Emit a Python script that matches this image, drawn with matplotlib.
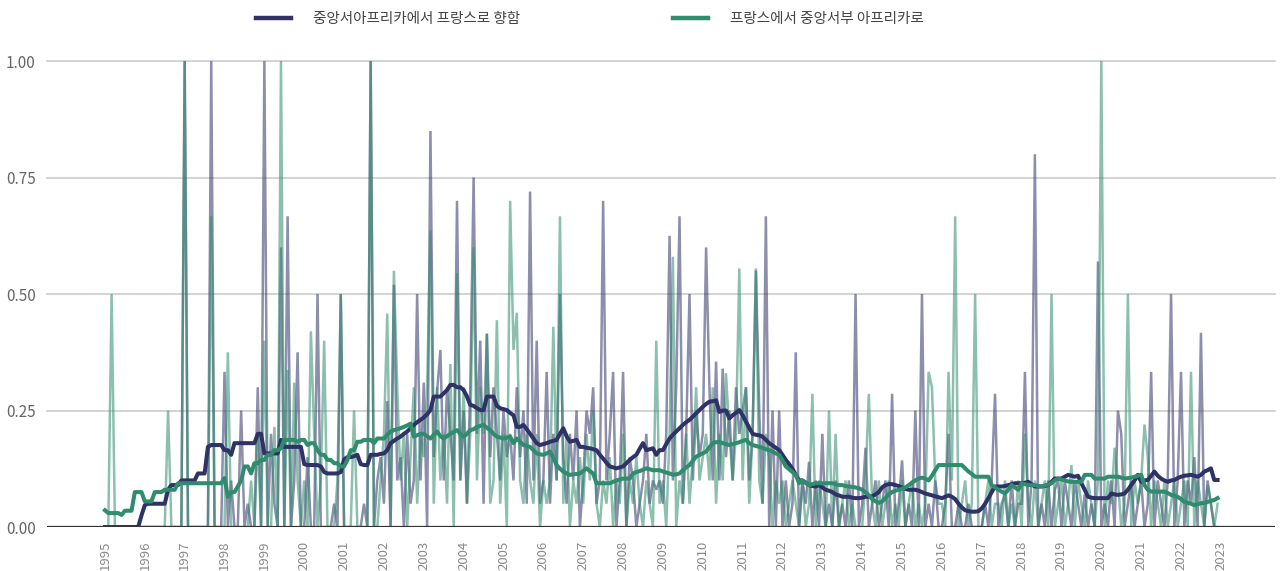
import numpy as np
import matplotlib
matplotlib.use("Agg")
import matplotlib.pyplot as plt
from matplotlib.lines import Line2D

plt.rcParams["font.family"] = ["Noto Sans CJK KR", "DejaVu Sans"]

# Monthly share values, Jan 1995 .. Dec 2022 (one row per year)
to_france_raw = [
    0, 0, 0, 0, 0, 0, 0, 0, 0, 0, 0, 0,                                  # 1995
    0, 0, 0, 0, 0, 0, 0, 0, 0, 0, 0, 0,                                  # 1996
    1.0, 0, 0, 0, 0, 0, 0, 0, 1.0, 0, 0, 0,                              # 1997
    0.333, 0, 0.1, 0, 0, 0.25, 0, 0.05, 0, 0, 0.3, 0,                    # 1998
    1.0, 0, 0.2, 0.05, 0, 0.6, 0, 0.667, 0, 0.1, 0.375, 0,               # 1999
    0, 0.15, 0, 0, 0.5, 0, 0, 0, 0, 0.05, 0, 0.5,                        # 2000
    0, 0, 0, 0, 0, 0, 0.05, 0, 1.0, 0, 0.1, 0.15,                        # 2001
    0.05, 0.27, 0, 0.52, 0.1, 0.15, 0, 0.2, 0.05, 0.1, 0.5, 0.1,         # 2002
    0.31, 0, 0.85, 0.15, 0.29, 0.38, 0.1, 0.3, 0.2, 0.1, 0.7, 0.1,       # 2003
    0.25, 0.05, 0.3, 0.75, 0.2, 0.4, 0.05, 0.415, 0.15, 0.3, 0.2, 0.1,   # 2004
    0.25, 0.15, 0.2, 0.1, 0.3, 0.15, 0.25, 0.05, 0.72, 0.1, 0.4, 0.05,   # 2005
    0.1, 0.333, 0.05, 0.2, 0.1, 0.5, 0.15, 0.05, 0.2, 0.1, 0.25, 0,      # 2006
    0.1, 0.25, 0.2, 0.3, 0.05, 0.1, 0.7, 0.1, 0.2, 0.333, 0, 0.1,        # 2007
    0.333, 0, 0.15, 0.1, 0, 0.05, 0.1, 0.2, 0.05, 0.1, 0.08, 0.1,        # 2008
    0.05, 0.2, 0.625, 0.1, 0.3, 0.667, 0.05, 0.2, 0.5, 0.1, 0.25, 0.15,  # 2009
    0.2, 0.6, 0.3, 0.1, 0.355, 0.1, 0.34, 0.15, 0.25, 0.1, 0.3, 0.2,     # 2010
    0.25, 0.3, 0.1, 0.2, 0.55, 0.25, 0.05, 0.667, 0, 0.25, 0, 0.25,      # 2011
    0, 0.1, 0, 0.05, 0.375, 0, 0.1, 0.05, 0.14, 0, 0.1, 0,               # 2012
    0.2, 0, 0.05, 0, 0.1, 0, 0.05, 0, 0.1, 0, 0.5, 0,                    # 2013
    0.05, 0.17, 0, 0.05, 0.1, 0, 0.05, 0.1, 0, 0.286, 0, 0.05,           # 2014
    0.143, 0, 0.05, 0, 0.25, 0, 0.5, 0, 0.05, 0, 0.1, 0,                 # 2015
    0, 0.05, 0.2, 0, 0, 0.05, 0, 0, 0.05, 0, 0, 0,                       # 2016
    0, 0.05, 0, 0.1, 0.286, 0, 0.05, 0.07, 0, 0.1, 0, 0.05,              # 2017
    0.05, 0.333, 0, 0.1, 0.8, 0, 0.05, 0, 0.1, 0, 0.08, 0.1,             # 2018
    0, 0.1, 0.05, 0, 0.1, 0.05, 0, 0.07, 0, 0.05, 0, 0.57,               # 2019
    0, 0.05, 0, 0.1, 0, 0.25, 0.2, 0, 0.05, 0.1, 0, 0.05,                # 2020
    0.1, 0, 0.05, 0.333, 0, 0.1, 0.05, 0, 0.1, 0.5, 0, 0.1,              # 2021
    0.333, 0, 0.1, 0.05, 0.15, 0, 0.417, 0, 0.1, 0.05, 0, 0,             # 2022
]

to_africa_raw = [
    0, 0, 0.5, 0, 0, 0, 0, 0, 0, 0, 0, 0,                                # 1995
    0, 0, 0, 0, 0, 0, 0, 0.25, 0, 0, 0, 0,                               # 1996
    1.0, 0, 0, 0, 0, 0, 0, 0, 0.667, 0, 0, 0,                            # 1997
    0, 0.375, 0, 0, 0, 0, 0, 0, 0.1, 0, 0.2, 0,                          # 1998
    0.4, 0, 0, 0.215, 0, 1.0, 0, 0.337, 0, 0.31, 0.1, 0,                 # 1999
    0.1, 0, 0.42, 0.2, 0, 0.1, 0.4, 0, 0, 0, 0.1, 0.5,                   # 2000
    0, 0, 0, 0.25, 0, 0, 0, 0, 1.0, 0, 0, 0.1,                           # 2001
    0.2, 0.458, 0, 0.55, 0.3, 0.1, 0.2, 0, 0.15, 0.3, 0.05, 0.2,         # 2002
    0.15, 0.3, 0.637, 0.05, 0.3, 0.1, 0.2, 0.05, 0.35, 0, 0.545, 0.1,    # 2003
    0.3, 0.05, 0.2, 0.6, 0.1, 0.3, 0.2, 0.415, 0.05, 0.1, 0.444, 0.05,   # 2004
    0.2, 0, 0.7, 0.38, 0.46, 0.1, 0.05, 0.2, 0.1, 0.05, 0.2, 0,          # 2005
    0.1, 0.05, 0.1, 0.43, 0.1, 0.667, 0.05, 0.2, 0, 0.1, 0.05, 0.15,     # 2006
    0.05, 0.2, 0.1, 0.25, 0.05, 0, 0.1, 0.05, 0.15, 0, 0.1, 0.05,        # 2007
    0.2, 0, 0.1, 0.05, 0.15, 0.05, 0, 0.1, 0.05, 0, 0.4, 0.05,           # 2008
    0.1, 0, 0.2, 0.58, 0, 0.1, 0.05, 0.2, 0.05, 0.15, 0.3, 0.1,          # 2009
    0.15, 0.2, 0.1, 0.3, 0.05, 0.2, 0.1, 0.33, 0.2, 0.1, 0.2, 0.555,     # 2010
    0.1, 0.3, 0.05, 0.2, 0.555, 0.1, 0.05, 0.2, 0.15, 0, 0.1, 0.05,      # 2011
    0.1, 0, 0.05, 0.1, 0.05, 0, 0.1, 0, 0.05, 0.286, 0, 0.1,             # 2012
    0.05, 0, 0.25, 0, 0.2, 0, 0.05, 0.1, 0, 0.05, 0, 0,                  # 2013
    0, 0.1, 0.286, 0.05, 0, 0.1, 0, 0.05, 0.1, 0, 0.05, 0,               # 2014
    0.1, 0, 0.05, 0.1, 0, 0.05, 0, 0.05, 0.333, 0.3, 0.1, 0.05,          # 2015
    0.05, 0, 0.333, 0.1, 0.667, 0, 0.05, 0.1, 0, 0.05, 0.5, 0,           # 2016
    0, 0.05, 0.1, 0, 0.05, 0.05, 0, 0.1, 0, 0.05, 0, 0.1,                # 2017
    0, 0.2, 0.05, 0, 0.1, 0, 0.05, 0.1, 0, 0.5, 0, 0.05,                 # 2018
    0.1, 0, 0.05, 0.133, 0, 0.1, 0.05, 0, 0.1, 0.05, 0, 0.1,             # 2019
    1.0, 0, 0.1, 0.05, 0.17, 0.1, 0, 0.05, 0.5, 0, 0.1, 0.05,            # 2020
    0.1, 0.22, 0.15, 0, 0.1, 0.05, 0, 0.1, 0, 0.05, 0.1, 0,              # 2021
    0.05, 0.1, 0, 0.333, 0, 0.1, 0.05, 0, 0.09, 0.05, 0, 0.05,           # 2022
]

# Smoothed trend of each series
to_france_trend = [
    0, 0, 0, 0, 0, 0, 0, 0, 0, 0, 0, 0.025,
    0.047, 0.05, 0.05, 0.05, 0.05, 0.05, 0.05, 0.08, 0.09, 0.09, 0.09, 0.10,
    0.10, 0.10, 0.10, 0.10, 0.115, 0.115, 0.115, 0.172, 0.176, 0.176, 0.176, 0.176,
    0.165, 0.165, 0.155, 0.18, 0.18, 0.18, 0.18, 0.18, 0.18, 0.18, 0.2, 0.2,
    0.158, 0.158, 0.158, 0.158, 0.158, 0.187, 0.172, 0.172, 0.172, 0.172, 0.172, 0.172,
    0.135, 0.133, 0.133, 0.133, 0.133, 0.13, 0.118, 0.115, 0.115, 0.115, 0.115, 0.118,
    0.145, 0.15, 0.15, 0.152, 0.155, 0.135, 0.133, 0.133, 0.155, 0.155, 0.155, 0.157,
    0.158, 0.165, 0.18, 0.185, 0.19, 0.194, 0.2, 0.205, 0.212, 0.219, 0.225, 0.23,
    0.235, 0.242, 0.251, 0.28, 0.28, 0.28, 0.287, 0.294, 0.305, 0.305, 0.30, 0.30,
    0.294, 0.28, 0.262, 0.26, 0.255, 0.251, 0.251, 0.28, 0.28, 0.28, 0.26, 0.255,
    0.253, 0.251, 0.245, 0.24, 0.215, 0.215, 0.219, 0.21, 0.2, 0.19, 0.18, 0.176,
    0.178, 0.18, 0.183, 0.185, 0.187, 0.2, 0.212, 0.195, 0.183, 0.185, 0.187, 0.172,
    0.172, 0.17, 0.169, 0.167, 0.165, 0.155, 0.147, 0.138, 0.13, 0.128, 0.126, 0.128,
    0.13, 0.137, 0.144, 0.15, 0.155, 0.168, 0.18, 0.165, 0.167, 0.169, 0.155, 0.165,
    0.165, 0.178, 0.19, 0.198, 0.205, 0.212, 0.219, 0.225, 0.23, 0.237, 0.244, 0.251,
    0.258, 0.264, 0.269, 0.27, 0.272, 0.247, 0.25, 0.25, 0.233, 0.24, 0.245, 0.251,
    0.24, 0.226, 0.213, 0.2, 0.198, 0.197, 0.194, 0.187, 0.18, 0.175, 0.17, 0.165,
    0.155, 0.144, 0.135, 0.125, 0.112, 0.1, 0.1, 0.095, 0.09, 0.088, 0.087, 0.09,
    0.085, 0.08, 0.078, 0.075, 0.07, 0.068, 0.065, 0.065, 0.065, 0.063, 0.062, 0.062,
    0.063, 0.065, 0.065, 0.066, 0.07, 0.075, 0.085, 0.09, 0.092, 0.092, 0.09, 0.088,
    0.085, 0.082, 0.08, 0.08, 0.08, 0.078, 0.075, 0.072, 0.07, 0.068, 0.066, 0.064,
    0.062, 0.065, 0.068, 0.065, 0.06, 0.05, 0.042, 0.036, 0.034, 0.033, 0.033, 0.034,
    0.04, 0.05, 0.062, 0.075, 0.087, 0.087, 0.087, 0.088, 0.09, 0.092, 0.094, 0.094,
    0.094, 0.095, 0.097, 0.092, 0.087, 0.087, 0.087, 0.088, 0.09, 0.097, 0.104, 0.104,
    0.104, 0.108, 0.112, 0.11, 0.108, 0.11, 0.094, 0.08, 0.065, 0.063, 0.062, 0.062,
    0.062, 0.062, 0.062, 0.072, 0.07, 0.069, 0.07, 0.072, 0.08, 0.09, 0.1, 0.112,
    0.097, 0.1, 0.101, 0.11, 0.119, 0.11, 0.104, 0.1, 0.097, 0.1, 0.101, 0.105,
    0.108, 0.11, 0.111, 0.112, 0.11, 0.108, 0.112, 0.119, 0.122, 0.126, 0.101, 0.101,
]

to_africa_trend = [
    0.036, 0.03, 0.03, 0.03, 0.03, 0.026, 0.035, 0.035, 0.035, 0.075, 0.075, 0.075,
    0.055, 0.055, 0.055, 0.075, 0.075, 0.075, 0.08, 0.08, 0.08, 0.08, 0.094, 0.094,
    0.094, 0.094, 0.094, 0.094, 0.094, 0.094, 0.094, 0.094, 0.094, 0.094, 0.094, 0.094,
    0.105, 0.065, 0.075, 0.075, 0.087, 0.1, 0.13, 0.13, 0.115, 0.137, 0.137, 0.144,
    0.144, 0.155, 0.155, 0.165, 0.165, 0.169, 0.187, 0.187, 0.187, 0.187, 0.183, 0.187,
    0.187, 0.176, 0.18, 0.18, 0.165, 0.155, 0.155, 0.144, 0.144, 0.137, 0.137, 0.13,
    0.13, 0.144, 0.165, 0.165, 0.183, 0.183, 0.187, 0.187, 0.187, 0.18, 0.19, 0.19,
    0.19, 0.198, 0.205, 0.208, 0.21, 0.212, 0.215, 0.218, 0.222, 0.194, 0.197, 0.2,
    0.2, 0.195, 0.19, 0.198, 0.205, 0.195, 0.19, 0.195, 0.2, 0.204, 0.208, 0.2,
    0.194, 0.2, 0.208, 0.21, 0.215, 0.217, 0.219, 0.213, 0.208, 0.2, 0.194, 0.192,
    0.19, 0.192, 0.194, 0.18, 0.19, 0.183, 0.176, 0.174, 0.172, 0.165, 0.158, 0.156,
    0.155, 0.158, 0.162, 0.148, 0.133, 0.125, 0.119, 0.115, 0.112, 0.113, 0.114, 0.115,
    0.12, 0.126, 0.12, 0.115, 0.094, 0.094, 0.094, 0.094, 0.094, 0.097, 0.1, 0.102,
    0.104, 0.104, 0.104, 0.115, 0.118, 0.12, 0.123, 0.126, 0.124, 0.122, 0.122, 0.122,
    0.119, 0.117, 0.115, 0.112, 0.113, 0.115, 0.122, 0.128, 0.133, 0.142, 0.151, 0.155,
    0.158, 0.162, 0.171, 0.18, 0.182, 0.183, 0.18, 0.178, 0.176, 0.178, 0.18, 0.182,
    0.185, 0.187, 0.18, 0.176, 0.174, 0.172, 0.17, 0.167, 0.165, 0.162, 0.158, 0.155,
    0.143, 0.13, 0.124, 0.118, 0.112, 0.094, 0.1, 0.095, 0.09, 0.092, 0.094, 0.094,
    0.094, 0.094, 0.094, 0.094, 0.092, 0.09, 0.09, 0.088, 0.087, 0.086, 0.085, 0.083,
    0.08, 0.075, 0.068, 0.06, 0.055, 0.052, 0.055, 0.062, 0.07, 0.075, 0.078, 0.08,
    0.082, 0.085, 0.09, 0.095, 0.1, 0.104, 0.106, 0.104, 0.1, 0.11, 0.122, 0.133,
    0.133, 0.133, 0.133, 0.133, 0.133, 0.133, 0.133, 0.126, 0.119, 0.114, 0.108, 0.108,
    0.108, 0.108, 0.108, 0.09, 0.085, 0.08, 0.076, 0.072, 0.08, 0.09, 0.085, 0.08,
    0.094, 0.092, 0.09, 0.09, 0.09, 0.088, 0.087, 0.089, 0.091, 0.094, 0.1, 0.104,
    0.102, 0.1, 0.098, 0.097, 0.097, 0.097, 0.097, 0.112, 0.112, 0.112, 0.104, 0.104,
    0.104, 0.104, 0.108, 0.108, 0.108, 0.108, 0.106, 0.104, 0.105, 0.106, 0.108, 0.11,
    0.112, 0.09, 0.08, 0.076, 0.076, 0.076, 0.076, 0.076, 0.073, 0.069, 0.067, 0.065,
    0.06, 0.054, 0.052, 0.05, 0.047, 0.049, 0.051, 0.052, 0.054, 0.056, 0.058, 0.062,
]

series_labels = ["중앙서아프리카에서 프랑스로 향함", "프랑스에서 중앙서부 아프리카로"]
year_ticks = list(range(1995, 2024))
y_ticks = [0.0, 0.25, 0.5, 0.75, 1.0]

NAVY = "#2f3266"
TEAL = "#2f8c6c"

t = 1995 + np.arange(len(to_france_raw)) / 12.0

fig = plt.figure(figsize=(12.8, 5.71), dpi=100)
ax = fig.add_axes([0.0367, 0.077, 0.9593, 0.816])

ax.plot(t, to_france_raw, color=NAVY, alpha=0.55, lw=1.8, zorder=2,
        solid_joinstyle="miter")
ax.plot(t, to_africa_raw, color=TEAL, alpha=0.55, lw=1.8, zorder=3,
        solid_joinstyle="miter")
ax.plot(t, to_france_trend, color=NAVY, lw=2.9, zorder=4)
ax.plot(t, to_africa_trend, color=TEAL, lw=2.9, zorder=5)

ax.set_xlim(1993.545, 2024.355)
ax.set_ylim(0, 1.0)

ax.set_yticks(y_ticks)
ax.set_yticklabels([f"{v:.2f}" for v in y_ticks])
ax.set_xticks(year_ticks)
ax.set_xticklabels([str(y) for y in year_ticks], rotation=90)

ax.tick_params(axis="y", length=0, pad=8, labelsize=11, labelcolor="#666666")
ax.tick_params(axis="x", length=0, pad=10, labelsize=9.5, labelcolor="#8a8a8a")

for v in y_ticks[1:]:
    ax.axhline(v, color="#cccccc", lw=1.2, zorder=1, clip_on=False)
ax.axhline(0, color="#333333", lw=1.6, zorder=6)

for s in ax.spines.values():
    s.set_visible(False)

handles = [Line2D([], [], color=NAVY, lw=3.2), Line2D([], [], color=TEAL, lw=3.2)]
fig.legend(handles, series_labels, loc="center", ncol=2,
           bbox_to_anchor=(0.461, 0.967), frameon=False, fontsize=10.5,
           handlelength=2.4, handletextpad=1.5, columnspacing=10.5,
           labelcolor="#444444")

fig.savefig("out.png", dpi=100)
